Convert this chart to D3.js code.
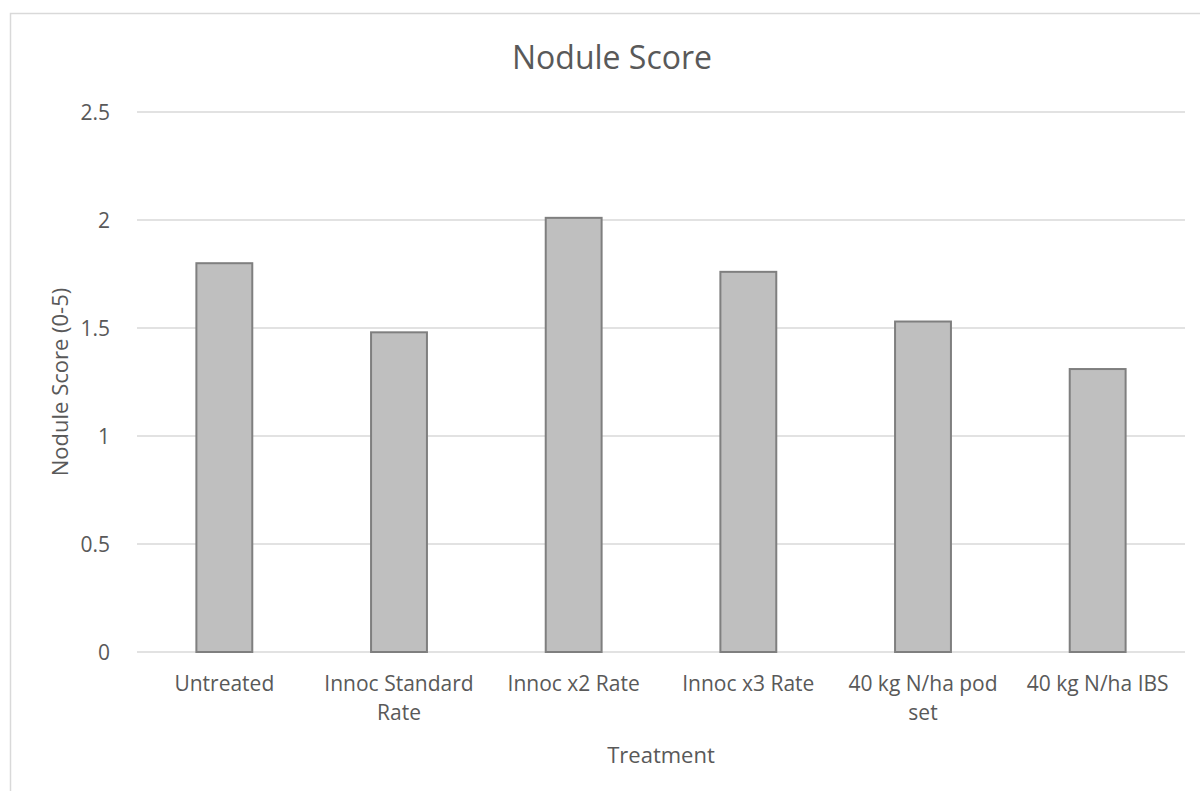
<!DOCTYPE html>
<html>
<head>
<meta charset="utf-8">
<script src="https://cdn.jsdelivr.net/npm/d3@7"></script>
<style>
  body { margin: 0; background: #fff; }
  text { font-family: "Open Sans", sans-serif; fill: #595959; }
</style>
</head>
<body>
<div id="chart"></div>
<script>
// data
const treatments = ["Untreated", "Innoc Standard Rate", "Innoc x2 Rate", "Innoc x3 Rate", "40 kg N/ha pod set", "40 kg N/ha IBS"];
const noduleScores = [1.8, 1.48, 2.01, 1.76, 1.53, 1.31];
const yTicks = [0, 0.5, 1, 1.5, 2, 2.5];

const width = 1200, height = 791;
const margin = {top: 112, right: 15, bottom: 139, left: 137};
const innerW = width - margin.left - margin.right;
const innerH = height - margin.top - margin.bottom;

const svg = d3.select("#chart").append("svg")
    .attr("width", width)
    .attr("height", height);

// outer chart border
svg.append("rect")
    .attr("x", 10.5).attr("y", 13.5)
    .attr("width", 1250).attr("height", 900)
    .attr("fill", "none")
    .attr("stroke", "#d9d9d9")
    .attr("stroke-width", 1.5);

const g = svg.append("g")
    .attr("transform", `translate(${margin.left},${margin.top})`);

const x = d3.scaleBand()
    .domain(treatments)
    .range([0, innerW])
    .paddingInner(0.68)
    .paddingOuter(0.34);

const y = d3.scaleLinear()
    .domain([0, 2.5])
    .range([innerH, 0]);

// gridlines
g.append("g")
    .selectAll("line")
    .data(yTicks)
    .join("line")
    .attr("x1", 0).attr("x2", innerW)
    .attr("y1", d => y(d)).attr("y2", d => y(d))
    .attr("stroke", "#d9d9d9")
    .attr("stroke-width", 1.5);

// y axis labels
const yAxis = g.append("g")
    .attr("transform", "translate(-24,0)")
    .call(d3.axisLeft(y).tickValues(yTicks).tickSize(0).tickFormat(d => d));
yAxis.select(".domain").remove();
yAxis.selectAll("text")
    .style("font-family", '"Open Sans", sans-serif')
    .style("font-size", "21px")
    .attr("fill", "#595959")
    .attr("dy", "0.35em");

// bars
g.selectAll(".bar")
    .data(noduleScores)
    .join("rect")
    .attr("class", "bar")
    .attr("x", (d, i) => x(treatments[i]))
    .attr("y", d => y(d))
    .attr("width", x.bandwidth())
    .attr("height", d => innerH - y(d))
    .attr("fill", "#bfbfbf")
    .attr("stroke", "#7f7f7f")
    .attr("stroke-width", 2);

// x axis labels with wrapping
const step = x.step();
const xLabels = g.append("g")
    .selectAll("text")
    .data(treatments)
    .join("text")
    .attr("x", d => x(d) + x.bandwidth() / 2)
    .attr("y", innerH + 39)
    .attr("text-anchor", "middle")
    .style("font-size", "21px");

xLabels.each(function(d) {
    const el = d3.select(this);
    const words = d.split(" ");
    let line = [];
    let tspan = el.append("tspan").attr("x", el.attr("x")).attr("dy", 0);
    words.forEach(w => {
        line.push(w);
        tspan.text(line.join(" "));
        if (tspan.node().getComputedTextLength() > step - 6 && line.length > 1) {
            line.pop();
            tspan.text(line.join(" "));
            line = [w];
            tspan = el.append("tspan").attr("x", el.attr("x")).attr("dy", "1.4em").text(w);
        }
    });
});

// chart title
svg.append("text")
    .attr("x", 612)
    .attr("y", 69)
    .attr("text-anchor", "middle")
    .style("font-size", "32px")
    .text("Nodule Score");

// axis titles
svg.append("text")
    .attr("x", margin.left + innerW / 2)
    .attr("y", 763)
    .attr("text-anchor", "middle")
    .style("font-size", "22px")
    .text("Treatment");

svg.append("text")
    .attr("transform", `translate(68,${margin.top + innerH / 2}) rotate(-90)`)
    .attr("text-anchor", "middle")
    .style("font-size", "22px")
    .text("Nodule Score (0-5)");
</script>
</body>
</html>
